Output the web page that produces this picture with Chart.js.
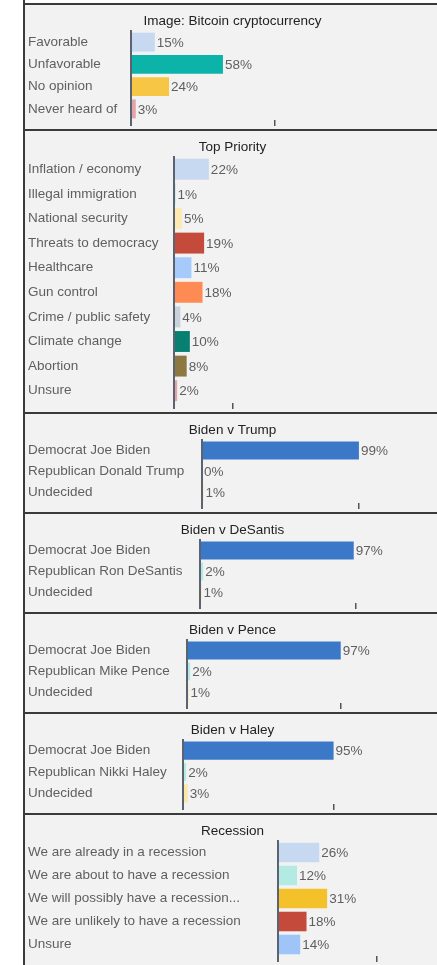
<!DOCTYPE html>
<html><head><meta charset="utf-8">
<script src="https://cdn.jsdelivr.net/npm/chart.js@4.4.0/dist/chart.umd.min.js"></script>
<style>
html,body{margin:0;padding:0;background:#fff;width:437px;height:965px;overflow:hidden;}
#wrap{position:absolute;left:23px;top:0;width:414px;height:965px;border-left:2px solid #3a3a3a;box-sizing:border-box;}
.panel{position:absolute;left:0;width:412px;background:#f2f2f2;border-top:2px solid #3a3a3a;}
.panel canvas{display:block;}
</style></head><body><div id="wrap"></div>
<script>
// ---- data ----
const bitcoinTitle = 'Image: Bitcoin cryptocurrency';
const bitcoinLabels = ['Favorable','Unfavorable','No opinion','Never heard of'];
const bitcoinValues = [15,58,24,3];
const bitcoinColors = ['#c6d9f1','#0bb3a8','#f6c644','#e6a3a3'];

const priorityTitle = 'Top Priority';
const priorityLabels = ['Inflation / economy','Illegal immigration','National security','Threats to democracy','Healthcare','Gun control','Crime / public safety','Climate change','Abortion','Unsure'];
const priorityValues = [22,1,5,19,11,18,4,10,8,2];
const priorityColors = ['#c6d9f1','#b3ebe4','#fde9b2','#c44a3c','#a6cbfa','#ff8b54','#c8d2dc','#097f72','#8e7842','#e6a3a3'];

const trumpTitle = 'Biden v Trump';
const trumpLabels = ['Democrat Joe Biden','Republican Donald Trump','Undecided'];
const trumpValues = [99,0,1];

const desantisTitle = 'Biden v DeSantis';
const desantisLabels = ['Democrat Joe Biden','Republican Ron DeSantis','Undecided'];
const desantisValues = [97,2,1];

const penceTitle = 'Biden v Pence';
const penceLabels = ['Democrat Joe Biden','Republican Mike Pence','Undecided'];
const penceValues = [97,2,1];

const haleyTitle = 'Biden v Haley';
const haleyLabels = ['Democrat Joe Biden','Republican Nikki Haley','Undecided'];
const haleyValues = [95,2,3];

const matchupColors = ['#3c78c8','#b3ebe4','#fbe6a8'];

const recessionTitle = 'Recession';
const recessionLabels = ['We are already in a recession','We are about to have a recession','We will possibly have a recession...','We are unlikely to have a recession','Unsure'];
const recessionValues = [26,12,31,18,14];
const recessionColors = ['#c6d9f1','#b3ebe4','#f5c12a','#c44a3c','#9fc5f8'];

// single axis tick value shown on each panel's value axis
const axisTickValues = [91,37,99,98,97,95,62];

// ---- layout / style ----
const FONT = 'Arial, "Liberation Sans", sans-serif';
const FONT_SIZE = 13.5;
const PANEL_X = 25, CANVAS_W = 412, PX_PER_PCT = 1.585;
const panels = [
  {title:bitcoinTitle,   labels:bitcoinLabels,   values:bitcoinValues,   colors:bitcoinColors,   top:3,   h:124, axisLeft:131},
  {title:priorityTitle,  labels:priorityLabels,  values:priorityValues,  colors:priorityColors,  top:129, h:281, axisLeft:174},
  {title:trumpTitle,     labels:trumpLabels,     values:trumpValues,     colors:matchupColors,   top:412, h:98,  axisLeft:202},
  {title:desantisTitle,  labels:desantisLabels,  values:desantisValues,  colors:matchupColors,   top:512, h:98,  axisLeft:200},
  {title:penceTitle,     labels:penceLabels,     values:penceValues,     colors:matchupColors,   top:612, h:98,  axisLeft:187},
  {title:haleyTitle,     labels:haleyLabels,     values:haleyValues,     colors:matchupColors,   top:712, h:99,  axisLeft:183},
  {title:recessionTitle, labels:recessionLabels, values:recessionValues, colors:recessionColors, top:813, h:150, axisLeft:278},
];

const valueLabels = {
  id:'valueLabels',
  afterDatasetsDraw(chart){
    const ctx = chart.ctx, meta = chart.getDatasetMeta(0), data = chart.data.datasets[0].data;
    ctx.save();
    ctx.font = FONT_SIZE + 'px ' + FONT;
    ctx.fillStyle = '#5f5f5f';
    ctx.textBaseline = 'middle';
    ctx.textAlign = 'left';
    meta.data.forEach((bar,i)=>{ ctx.fillText(data[i] + '%', bar.x + 2, bar.y + 1); });
    ctx.restore();
  }
};

const wrap = document.getElementById('wrap');
panels.forEach((p, idx)=>{
  const div = document.createElement('div');
  div.className = 'panel';
  div.style.top = p.top + 'px';
  div.style.height = p.h + 'px';
  const cv = document.createElement('canvas');
  cv.width = CANVAS_W; cv.height = p.h;
  cv.style.width = CANVAS_W + 'px'; cv.style.height = p.h + 'px';
  div.appendChild(cv);
  wrap.appendChild(div);
  const yWidth = p.axisLeft - PANEL_X - 3;
  const xMax = (CANVAS_W - (p.axisLeft - PANEL_X)) / PX_PER_PCT;
  const tickVal = axisTickValues[idx];
  new Chart(cv, {
    type:'bar',
    data:{labels:p.labels, datasets:[{data:p.values, backgroundColor:p.colors, borderWidth:0,
      categoryPercentage:1, barPercentage:0.85}]},
    options:{
      responsive:false, animation:false, indexAxis:'y', devicePixelRatio:1,
      layout:{padding:{left:3,right:0,top:0,bottom:3}},
      plugins:{
        legend:{display:false}, tooltip:{enabled:false},
        title:{display:true, text:p.title, color:'#222', font:{family:FONT,size:FONT_SIZE,weight:'normal',lineHeight:1.2}, padding:{top:7.9,bottom:1.9}}
      },
      scales:{
        y:{type:'category', grid:{display:false},
           border:{display:true, color:'#5b6370', width:2, z:1},
           ticks:{crossAlign:'far', color:'#5f5f5f', font:{family:FONT,size:FONT_SIZE}, padding:0, autoSkip:false},
           afterFit:(s)=>{ s.width = yWidth; }},
        x:{type:'linear', min:0, max:xMax,
           grid:{display:true, drawOnChartArea:false, drawTicks:true, tickLength:6,
                 tickColor:(c)=> c.index===0 ? '#5b6370' : '#555',
                 tickWidth:(c)=> c.index===0 ? 2 : 1.5,
                 lineWidth:(c)=> c.index===0 ? 2 : 1.5},
           border:{display:false},
           ticks:{display:false},
           afterBuildTicks:(s)=>{ s.ticks = [{value:0},{value:tickVal}]; }}
      }
    },
    plugins:[valueLabels]
  });
});
</script>
</body></html>
